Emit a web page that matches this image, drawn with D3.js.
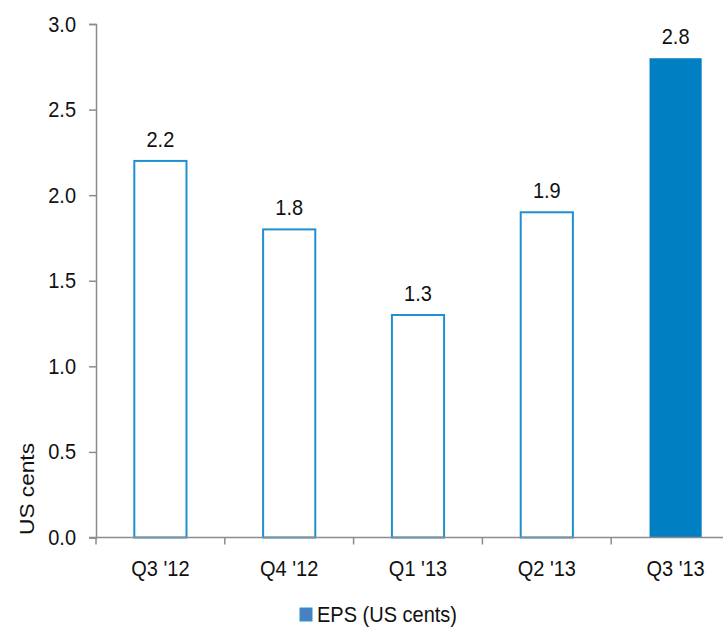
<!DOCTYPE html>
<html>
<head>
<meta charset="utf-8">
<script src="https://cdn.jsdelivr.net/npm/d3@7"></script>
<style>
  html, body { margin: 0; padding: 0; background: #fff; }
  svg { display: block; font-family: Arial, "Liberation Sans", sans-serif; }
</style>
</head>
<body>
<svg id="chart" width="723" height="629"></svg>
<script>
// Quarterly earnings per share
const quarters = ["Q3 '12", "Q4 '12", "Q1 '13", "Q2 '13", "Q3 '13"];
const eps = [2.2, 1.8, 1.3, 1.9, 2.8];
const highlighted = [false, false, false, false, true];
const yTicks = [0, 0.5, 1.0, 1.5, 2.0, 2.5, 3.0];

const svg = d3.select("#chart");
const blue = "#0080c3";
const outline = "#1f8fd2";
const axisGrey = "#8c8c8c";
const textColor = "#111";
const stretch = 1.07; // glyphs are drawn slightly taller than wide

const x = d3.scaleBand().domain(quarters).range([96, 740]).paddingInner(0).paddingOuter(0);
const y = d3.scaleLinear().domain([0, 3]).range([537.5, 24]);
const barW = x.bandwidth() * 0.405;

// Places a horizontal label at (px, py) with its baseline kept in place
function place(sel, px, py) {
  return sel.attr("transform", (d, i) => `translate(${px(d, i)},${py(d, i)}) scale(1,${stretch})`);
}

// Bars
svg.append("g").selectAll("rect")
  .data(quarters)
  .join("rect")
  .attr("x", d => x(d) + (x.bandwidth() - barW) / 2)
  .attr("y", (d, i) => y(eps[i]))
  .attr("width", barW)
  .attr("height", (d, i) => y(0) - y(eps[i]))
  .attr("fill", (d, i) => highlighted[i] ? blue : "#fff")
  .attr("stroke", (d, i) => highlighted[i] ? "none" : outline)
  .attr("stroke-width", 2);

// Value labels
place(svg.append("g").selectAll("text")
  .data(quarters)
  .join("text"),
  d => x(d) + x.bandwidth() / 2,
  (d, i) => y(eps[i]) - 14)
  .attr("text-anchor", "middle")
  .attr("font-size", 20)
  .attr("fill", textColor)
  .text((d, i) => d3.format(".1f")(eps[i]));

// Y axis
const yAxis = svg.append("g")
  .attr("transform", "translate(96,0)")
  .call(d3.axisLeft(y).tickValues(yTicks).tickFormat(d3.format(".1f")).tickSize(7).tickPadding(13));
yAxis.select(".domain").attr("stroke", axisGrey).attr("stroke-width", 1.5);
yAxis.selectAll(".tick line").attr("stroke", axisGrey).attr("stroke-width", 1.5);
yAxis.selectAll(".tick text")
  .attr("font-size", 20).attr("fill", textColor)
  .attr("font-family", "Arial, 'Liberation Sans', sans-serif")
  .attr("dy", null).attr("y", 7)
  .attr("transform", `scale(1,${stretch})`)
  .attr("y", 7 / stretch);

// X axis with ticks at category boundaries
const xg = svg.append("g").attr("transform", `translate(0,${y(0)})`);
xg.append("line")
  .attr("x1", 89).attr("x2", 740)
  .attr("stroke", axisGrey).attr("stroke-width", 1.5);
xg.selectAll("line.bound")
  .data(quarters)
  .join("line")
  .attr("class", "bound")
  .attr("x1", d => x(d)).attr("x2", d => x(d))
  .attr("y1", 0).attr("y2", 7)
  .attr("stroke", axisGrey).attr("stroke-width", 1.5);
place(xg.selectAll("text")
  .data(quarters)
  .join("text"),
  d => x(d) + x.bandwidth() / 2,
  () => 38)
  .attr("text-anchor", "middle")
  .attr("font-size", 20)
  .attr("fill", textColor)
  .text(d => d);

// Y axis title
svg.append("text")
  .attr("transform", "translate(34,489) rotate(-90)")
  .attr("text-anchor", "middle")
  .attr("font-size", 21)
  .attr("textLength", 92)
  .attr("lengthAdjust", "spacingAndGlyphs")
  .attr("fill", textColor)
  .text("US cents");

// Legend
const lg = svg.append("g").attr("transform", "translate(300,608)");
lg.append("rect")
  .attr("width", 12).attr("height", 13)
  .attr("fill", "#4a80bf")
  .attr("stroke", "#2a93d8").attr("stroke-width", 1);
lg.append("text")
  .attr("transform", `translate(17,14) scale(1,${stretch})`)
  .attr("font-size", 20)
  .attr("fill", textColor)
  .text("EPS (US cents)");
</script>
</body>
</html>
